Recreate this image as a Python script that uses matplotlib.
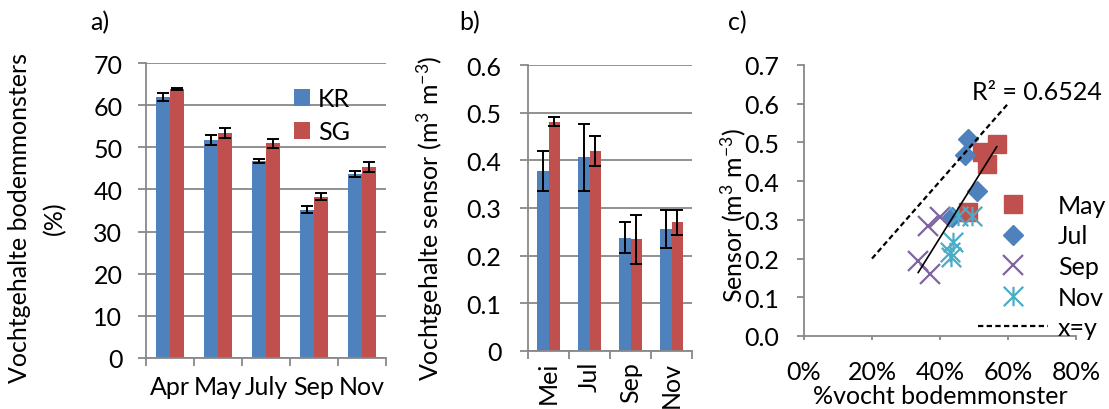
import numpy as np
import matplotlib
matplotlib.use("Agg")
import matplotlib.pyplot as plt
import matplotlib.ticker as mticker
from matplotlib.path import Path

plt.rcParams['font.family'] = ['Lato', 'DejaVu Sans']
plt.rcParams['mathtext.default'] = 'regular'

# --- a) soil sample moisture (%) ---
months_a = ['Apr', 'May', 'July', 'Sep', 'Nov']
kr_a = [61.9, 51.7, 46.8, 35.2, 43.6]
kr_a_err = [0.9, 1.2, 0.45, 0.8, 0.7]
sg_a = [63.8, 53.3, 50.9, 38.3, 45.4]
sg_a_err = [0.2, 1.2, 1.0, 0.9, 1.2]

# --- b) sensor moisture (m3 m-3) ---
months_b = ['Mei', 'Jul', 'Sep', 'Nov']
kr_b = [0.377, 0.406, 0.238, 0.256]
kr_b_err = [0.042, 0.071, 0.033, 0.039]
sg_b = [0.481, 0.420, 0.234, 0.270]
sg_b_err = [0.010, 0.032, 0.051, 0.026]

# --- c) sensor vs. soil sample ---
may_x = [0.567, 0.523, 0.537, 0.483]
may_y = [0.496, 0.475, 0.444, 0.320]
jul_x = [0.483, 0.474, 0.508, 0.434]
jul_y = [0.510, 0.468, 0.375, 0.307]
sep_x = [0.400, 0.366, 0.336, 0.371]
sep_y = [0.307, 0.285, 0.195, 0.160]
nov_x = [0.454, 0.493, 0.439, 0.429, 0.432]
nov_y = [0.311, 0.311, 0.242, 0.216, 0.204]
xy_line = [0.2, 0.6]
r2_text = 'R² = 0.6524'

BLUE = '#4F81BD'
RED = '#C0504D'
PURPLE = '#8064A2'
TEAL = '#4BACC6'
GRID = '#888888'
FS = 18

W, H = 1109, 410
fig = plt.figure(figsize=(W / 100, H / 100), dpi=100)


def box(l, t, r, b):
    return [l / W, 1 - b / H, (r - l) / W, (b - t) / H]


def style_axes(ax, grid=True):
    for s in ['top', 'right']:
        ax.spines[s].set_visible(False)
    for s in ['left', 'bottom']:
        ax.spines[s].set_color(GRID)
        ax.spines[s].set_linewidth(1.3)
    if grid:
        ax.yaxis.grid(True, color=GRID, linewidth=1.3)
    ax.set_axisbelow(True)
    ax.tick_params(axis='both', colors=GRID, length=6, width=1.3,
                   labelcolor='black', labelsize=FS)


def grouped_bars(ax, kr, kr_err, sg, sg_err):
    n = len(kr)
    x = np.arange(n)
    w = 0.285
    ekw = dict(elinewidth=1.4, capthick=1.4, ecolor='black')
    ax.bar(x - w / 2, kr, w, color=BLUE, yerr=kr_err, capsize=4.5,
           error_kw=ekw, label='KR')
    ax.bar(x + w / 2, sg, w, color=RED, yerr=sg_err, capsize=4.5,
           error_kw=ekw, label='SG')
    ax.set_xlim(-0.5, n - 0.5)
    ax.set_xticks(np.arange(n + 1) - 0.5)
    ax.set_xticklabels([])
    ax.set_xticks(x, minor=True)
    ax.tick_params(axis='x', which='minor', length=0)
    return x


# a)
axa = fig.add_axes(box(146, 64, 386, 359))
style_axes(axa)
grouped_bars(axa, kr_a, kr_a_err, sg_a, sg_a_err)
axa.set_ylim(0, 70)
axa.set_yticks(np.arange(0, 71, 10))
axa.set_xticklabels(months_a, minor=True)
axa.tick_params(axis='x', which='minor', pad=12, labelsize=FS)
axa.tick_params(axis='y', pad=11)
axa.legend(loc='upper left', bbox_to_anchor=(294 / W, 1 - 88 / H),
           bbox_transform=fig.transFigure, frameon=False, fontsize=FS,
           handlelength=0.65, handleheight=0.65, handletextpad=0.3,
           labelspacing=0.42, borderpad=0, borderaxespad=0)
fig.text(20 / W, 1 - 218 / H, 'Vochtgehalte bodemmonsters', rotation=90,
         ha='center', va='center', fontsize=FS)
fig.text(55 / W, 1 - 218 / H, '(%)', rotation=90,
         ha='center', va='center', fontsize=FS)
fig.text(100 / W, 1 - 23 / H, 'a)', ha='center', va='center', fontsize=FS)

# b)
axb = fig.add_axes(box(528, 66, 692, 352))
style_axes(axb)
grouped_bars(axb, kr_b, kr_b_err, sg_b, sg_b_err)
axb.set_ylim(0, 0.6)
axb.set_yticks(np.arange(0, 0.61, 0.1))
axb.yaxis.set_major_formatter(mticker.FuncFormatter(
    lambda v, p: '0' if abs(v) < 1e-9 else f'{v:.1f}'))
axb.set_xticklabels(months_b, minor=True, rotation=90)
axb.tick_params(axis='x', which='minor', pad=7, labelsize=FS)
axb.tick_params(axis='y', pad=13)
fig.text(430 / W, 1 - 218 / H, 'Vochtgehalte sensor (m$^{3}$ m$^{-3}$)',
         rotation=90, ha='center', va='center', fontsize=FS)
fig.text(470 / W, 1 - 23 / H, 'b)', ha='center', va='center', fontsize=FS)

# c)
axc = fig.add_axes(box(804, 66, 1076, 337))
style_axes(axc, grid=False)
axc.tick_params(axis='y', length=5, pad=13)
axc.tick_params(axis='x', length=3, pad=14)

star = Path([(-0.5, -0.5), (0.5, 0.5), (-0.5, 0.5), (0.5, -0.5),
             (0, -0.5), (0, 0.5)],
            [Path.MOVETO, Path.LINETO, Path.MOVETO, Path.LINETO,
             Path.MOVETO, Path.LINETO])

axc.plot(may_x, may_y, 's', ms=13.5, color=RED, mec=RED, label='May')
axc.plot(jul_x, jul_y, 'D', ms=10, color=BLUE, mec=BLUE, label='Jul')
axc.plot(sep_x, sep_y, 'x', ms=14, mew=1.6, color=PURPLE, label='Sep')
axc.plot(nov_x, nov_y, marker=star, ls='none', ms=14, mew=1.6,
         color=TEAL, mfc='none', label='Nov')
axc.plot(xy_line, xy_line, ls=(0, (2.4, 1.5)), color='black', lw=1.6,
         label='x=y')

all_x = np.array(may_x + jul_x + sep_x + nov_x)
all_y = np.array(may_y + jul_y + sep_y + nov_y)
slope, icpt = np.polyfit(all_x, all_y, 1)
fx = np.array([all_x.min(), all_x.max()])
axc.plot(fx, slope * fx + icpt, color='black', lw=1.2)

axc.set_xlim(0, 0.8)
axc.set_ylim(0, 0.7)
axc.set_xticks(np.arange(0, 0.81, 0.2))
axc.xaxis.set_major_formatter(mticker.PercentFormatter(1.0, decimals=0))
axc.set_yticks(np.arange(0, 0.71, 0.1))
axc.yaxis.set_major_formatter(mticker.FormatStrFormatter('%.1f'))
axc.text(1037 / W, 1 - 92 / H, r2_text, ha='center', va='center',
         fontsize=FS, transform=fig.transFigure)
axc.legend(loc='upper left', bbox_to_anchor=(978 / W, 1 - 195 / H),
           bbox_transform=fig.transFigure, frameon=False, fontsize=FS,
           handlelength=2.8, handletextpad=0.4, labelspacing=0.3,
           borderpad=0, borderaxespad=0, numpoints=1)
fig.text(733 / W, 1 - 215 / H, 'Sensor (m$^{3}$ m$^{-3}$)', rotation=90,
         ha='center', va='center', fontsize=FS)
fig.text(940 / W, 1 - 397 / H, '%vocht bodemmonster', ha='center',
         va='center', fontsize=FS)
fig.text(737 / W, 1 - 23 / H, 'c)', ha='center', va='center', fontsize=FS)

fig.savefig('out.png', dpi=100)
